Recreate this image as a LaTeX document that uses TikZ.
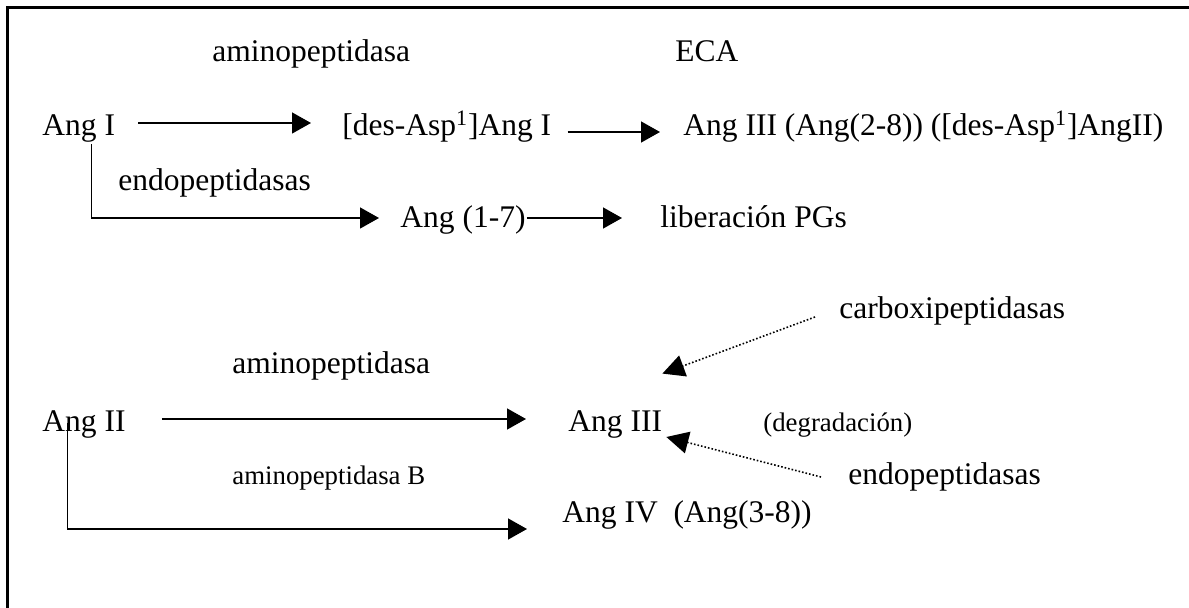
\documentclass[tikz,border=0pt]{standalone}
\usepackage{fontspec}
\setmainfont{Liberation Serif}
\usetikzlibrary{arrows.meta}

\tikzset{
    lbl/.style={anchor=base west, inner sep=0pt, text height=17pt, text depth=4pt,
        font=\fontsize{15.75}{19}\selectfont},
    lblsmall/.style={anchor=base west, inner sep=0pt,
        font=\fontsize{13.4}{16}\selectfont},
    conv/.style={-{Triangle[length=9.5pt,width=10.5pt]}, line width=0.7pt},
    side/.style={-{Triangle[length=11pt,width=11pt]}, line width=0.8pt, densely dotted},
}

\begin{document}
\begin{tikzpicture}[x=0.5pt,y=-0.5pt]
    \useasboundingbox (0,0) rectangle (1189,608);

    % Frame
    \draw [line width=1.15pt] (7.5,608) |- (1189,7.5);

    % Ang I labels
    \node (enzA) at (212,62) [lbl] {aminopeptidasa};
    \node (eca) at (675,62) [lbl] {ECA};
    \node (angI) at (42,136) [lbl] {Ang I};
    \node (desAsp) at (342,136) [lbl] {[des-Asp\textsuperscript{1}]Ang I};
    \node (angIIIa) at (683,136) [lbl]
        {Ang III (Ang(2-8)) ([des-Asp\textsuperscript{1}]AngII)};
    \node (endoA) at (118,191) [lbl] {endopeptidasas};
    \node (ang17) at (400,228) [lbl] {Ang (1-7)};
    \node (pgs) at (660,228) [lbl] {liberación PGs};

    % Ang I arrows
    \draw [conv, shorten <=11.5pt, shorten >=15.5pt] (angI) -- (desAsp);
    \draw [conv, shorten <=8pt, shorten >=11.5pt]
        ([yshift=-4.5pt]desAsp.east) -- ([yshift=-4.5pt]angIIIa.west);
    \draw [conv, shorten >=10.5pt]
        ([xshift=6.35pt]angI.south) |- ([yshift=-1.5pt]ang17.west);
    \draw [conv, shorten <=0.5pt, shorten >=19pt]
        ([yshift=-1.5pt]ang17.east) -- ([yshift=-1.5pt]pgs.west);

    % Ang II labels
    \node (enzB) at (232,374) [lbl] {aminopeptidasa};
    \node (carbox) at (839,319) [lbl] {carboxipeptidasas};
    \node (angII) at (42,432) [lbl] {Ang II};
    \node (angIIIb) at (568,432) [lbl] {Ang III};
    \node (degr) at (763,432) [lblsmall] {(degradación)};
    \node (apB) at (232,485) [lblsmall] {aminopeptidasa B};
    \node (endoB) at (848,485) [lbl] {endopeptidasas};
    \node (angIV) at (562,523) [lbl] {Ang IV~~(Ang(3-8))};

    % Ang II arrows
    \draw [conv, shorten <=18pt, shorten >=21pt] (angII) -- (angIIIb);
    \draw [conv, shorten >=17.5pt]
        ([xshift=-8.25pt,yshift=-2pt]angII.center) |- ([yshift=-9.5pt]angIV.west);

    % Degradation of Ang III
    \draw [side] ([xshift=-12pt,yshift=-5.5pt]carbox.west)
        -- ([yshift=12pt]angIIIb.north east);
    \draw [side] ([xshift=-13.5pt,yshift=-2.5pt]endoB.west)
        -- ([xshift=2pt,yshift=-9pt]angIIIb.east);
\end{tikzpicture}
\end{document}
